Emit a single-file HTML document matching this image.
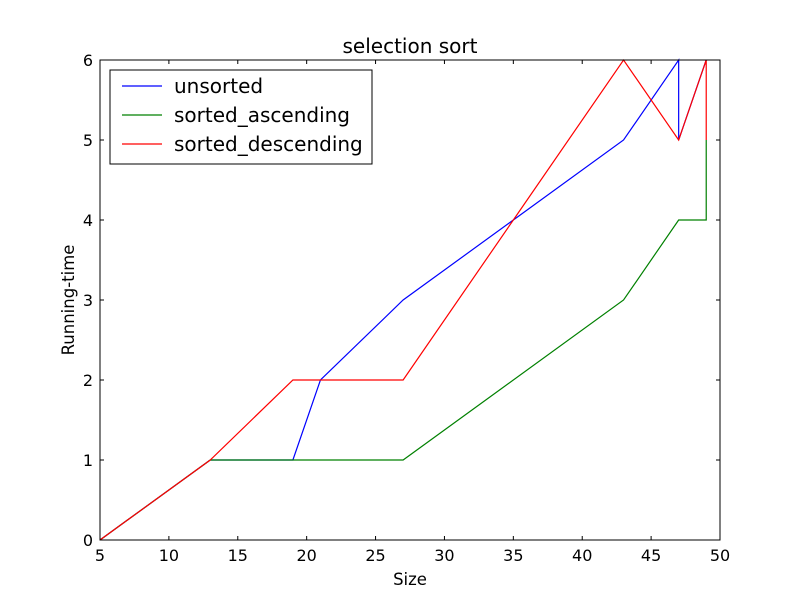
<!DOCTYPE html>
<html><head><meta charset="utf-8"><style>
body{margin:0;background:#fff;font-family:"Liberation Sans","DejaVu Sans",sans-serif;}
svg text{font-family:"DejaVu Sans","Liberation Sans",sans-serif;}
</style></head><body>
<svg id="chart" width="800" height="600" xmlns="http://www.w3.org/2000/svg"></svg>
<script>
const xTicks=[5,10,15,20,25,30,35,40,45,50];
const yTicks=[0,1,2,3,4,5,6];
const seriesNames=["unsorted","sorted_ascending","sorted_descending"];
const seriesColors=["#0000ff","#008000","#ff0000"];
const unsortedX=[5,13,19,21,27,35,43,47,47,49];
const unsortedY=[0,1,1,2,3,4,5,6,5,6];
const ascX=[5,13,27,43,47,49,49];
const ascY=[0,1,1,3,4,4,5];
const descX=[5,13,19,27,35,43,47,49,49];
const descY=[0,1,2,2,4,6,5,6,5];

const L=100,R=720,T=60,B=540;
const sx=v=>L+(v-5)/(50-5)*(R-L);
const sy=v=>B-(v-0)/(6-0)*(B-T);
const svg=document.getElementById('chart');
const NS="http://www.w3.org/2000/svg";
function mk(tag,attrs,parent){const e=document.createElementNS(NS,tag);for(const k in attrs)e.setAttribute(k,attrs[k]);(parent||svg).appendChild(e);return e;}

const bg=mk('rect',{x:L,y:T,width:R-L,height:B-T,fill:'#fff'});



const xs=[unsortedX,ascX,descX], ys=[unsortedY,ascY,descY];
const lineNames=['unsorted-line','sorted-ascending-line','sorted-descending-line'];
for(let i=0;i<3;i++){
  const p=mk('polyline',{points:xs[i].map((x,j)=>sx(x)+','+sy(ys[i][j])).join(' '),fill:'none',stroke:seriesColors[i],'stroke-width':1.2});
  
  
}

const frame=mk('rect',{x:L,y:T,width:R-L,height:B-T,fill:'none',stroke:'#000','stroke-width':1});



xTicks.forEach(v=>{
  const x=sx(v);
  mk('line',{x1:x,y1:B,x2:x,y2:B-4,stroke:'#000'});
  mk('line',{x1:x,y1:T,x2:x,y2:T+4,stroke:'#000'});
  const t=mk('text',{x:x,y:B+21,'text-anchor':'middle','font-size':16});
  t.textContent=v;
  
  
});
yTicks.forEach(v=>{
  const y=sy(v);
  mk('line',{x1:L,y1:y,x2:L+4,y2:y,stroke:'#000'});
  mk('line',{x1:R,y1:y,x2:R-4,y2:y,stroke:'#000'});
  const t=mk('text',{x:L-7,y:y+6,'text-anchor':'end','font-size':16});
  t.textContent=v;
  
  
});

const title=mk('text',{x:410,y:53,'text-anchor':'middle','font-size':20});
title.textContent='selection sort';


const xl=mk('text',{x:410,y:585,'text-anchor':'middle','font-size':16.5});
xl.textContent='Size';


const yl=mk('text',{x:74,y:300,'text-anchor':'middle','font-size':16.5,transform:'rotate(-90 74 300)'});
yl.textContent='Running-time';



const lg=mk('g',{});


mk('rect',{x:110,y:70,width:262,height:94,fill:'#fff',stroke:'#000','stroke-width':1},lg);
seriesNames.forEach((n,i)=>{
  const y=86+i*29;
  const ln=mk('line',{x1:122,y1:y,x2:162,y2:y,stroke:seriesColors[i],'stroke-width':1.2},lg);
  
  
  const t=mk('text',{x:174,y:y+7,'font-size':20},lg);
  t.textContent=n;
  
  
});
</script>
</body></html>
